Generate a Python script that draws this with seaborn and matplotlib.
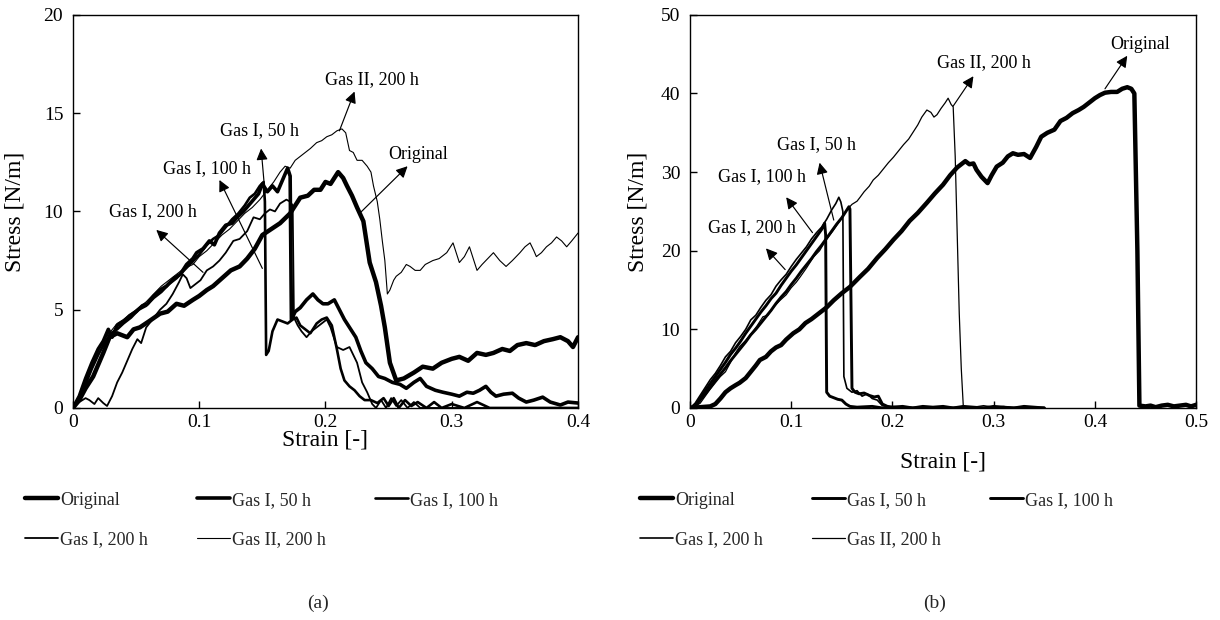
import matplotlib
matplotlib.use("Agg")
import matplotlib.pyplot as plt
from matplotlib.lines import Line2D
import seaborn as sns
import pandas as pd

# ---------------- data (strain, stress) ----------------
series_names = ["Original", "Gas I, 50 h", "Gas I, 100 h", "Gas I, 200 h", "Gas II, 200 h"]

a_original = [(0,0),(0.005,0.4),(0.01,1.0),(0.016,1.6),(0.02,2.2),(0.024,2.8),(0.029,3.6),(0.035,3.8),(0.043,3.6),
    (0.048,4.0),(0.053,4.1),(0.06,4.4),(0.069,4.8),(0.075,4.9),(0.082,5.3),(0.088,5.2),(0.095,5.5),(0.1,5.7),
    (0.106,6.0),(0.111,6.2),(0.118,6.6),(0.125,7.0),(0.132,7.2),(0.138,7.6),(0.144,8.1),(0.15,8.8),(0.157,9.1),
    (0.164,9.4),(0.172,9.9),(0.176,10.3),(0.18,10.7),(0.186,10.8),(0.191,11.1),(0.196,11.1),(0.2,11.5),(0.204,11.4),
    (0.21,12.0),(0.214,11.7),(0.217,11.3),(0.221,10.8),(0.225,10.2),(0.23,9.5),(0.235,7.4),(0.24,6.4),(0.244,5.2),
    (0.247,4.1),(0.251,2.3),(0.256,1.4),(0.262,1.5),(0.27,1.8),(0.277,2.1),(0.285,2.0),(0.292,2.3),(0.3,2.5),
    (0.306,2.6),(0.313,2.4),(0.32,2.8),(0.327,2.7),(0.333,2.8),(0.34,3.0),(0.346,2.9),(0.352,3.2),(0.359,3.3),
    (0.366,3.2),(0.373,3.4),(0.38,3.5),(0.386,3.6),(0.392,3.4),(0.396,3.1),(0.4,3.6)]

a_gas1_50 = [(0,0),(0.005,0.6),(0.01,1.5),(0.015,2.3),(0.02,3.0),(0.024,3.4),(0.028,4.0),(0.031,3.6),(0.035,4.2),
    (0.04,4.4),(0.045,4.7),(0.05,4.9),(0.055,5.2),(0.059,5.3),(0.064,5.7),(0.069,6.0),(0.074,6.2),(0.08,6.6),
    (0.085,6.8),(0.09,7.3),(0.095,7.6),(0.098,7.9),(0.103,8.1),(0.108,8.5),(0.112,8.3),(0.116,8.9),(0.121,9.3),
    (0.126,9.4),(0.13,9.7),(0.135,10.0),(0.139,10.3),(0.143,10.6),(0.147,10.9),(0.15,11.4),(0.154,11.0),
    (0.158,11.3),(0.162,11.0),(0.166,11.6),(0.17,12.2),(0.172,11.8),(0.173,4.5),(0.176,4.9),(0.18,5.1),(0.185,5.5),
    (0.19,5.8),(0.194,5.5),(0.198,5.3),(0.202,5.3),(0.207,5.5),(0.211,5.0),(0.215,4.5),(0.22,4.0),(0.224,3.6),
    (0.228,2.9),(0.232,2.3),(0.237,2.0),(0.242,1.6),(0.247,1.5),(0.253,1.3),(0.259,1.2),(0.264,1.0),(0.27,1.3),
    (0.275,1.5),(0.28,1.1),(0.287,0.9),(0.293,0.8),(0.3,0.7),(0.306,0.6),(0.312,0.8),(0.317,0.75),(0.322,0.9),
    (0.327,1.1),(0.331,0.8),(0.335,0.6),(0.341,0.7),(0.348,0.75),(0.353,0.5),(0.359,0.3),(0.365,0.4),(0.372,0.55),
    (0.378,0.3),(0.386,0.15),(0.392,0.3),(0.4,0.25)]

a_gas1_100 = [(0,0),(0.005,0.5),(0.01,1.2),(0.015,2.0),(0.02,2.7),(0.025,3.3),(0.03,3.8),(0.035,4.0),(0.04,4.3),
    (0.046,4.6),(0.052,5.0),(0.058,5.2),(0.064,5.6),(0.07,5.9),(0.076,6.3),(0.082,6.6),(0.088,7.0),(0.094,7.4),
    (0.1,7.8),(0.106,8.3),(0.111,8.6),(0.116,8.8),(0.121,9.2),(0.126,9.6),(0.131,9.9),(0.136,10.3),(0.14,10.7),
    (0.144,10.9),(0.148,11.3),(0.151,11.5),(0.152,10.5),(0.153,2.7),(0.155,2.9),(0.158,3.9),(0.162,4.5),(0.166,4.4),
    (0.17,4.3),(0.174,4.5),(0.177,4.6),(0.18,4.2),(0.184,4.0),(0.188,3.8),(0.193,4.3),(0.197,4.5),(0.201,4.6),
    (0.205,4.2),(0.209,3.0),(0.212,2.0),(0.215,1.4),(0.219,1.1),(0.223,0.9),(0.227,0.6),(0.231,0.4),(0.236,0.4),
    (0.241,0.25),(0.246,0.5),(0.25,0.1),(0.254,0.5),(0.258,0.0),(0.263,0.4),(0.268,0.1),(0.273,0.3),(0.28,0.0),
    (0.286,0.3),(0.292,0.0),(0.3,0.2),(0.31,0.0),(0.32,0.3),(0.33,0.0),(0.4,0.0)]

a_gas1_200 = [(0,0),(0.005,0.3),(0.01,0.5),(0.013,0.4),(0.017,0.2),(0.02,0.5),(0.024,0.25),(0.027,0.1),(0.031,0.6),
    (0.035,1.3),(0.039,1.8),(0.043,2.4),(0.047,3.0),(0.051,3.5),(0.054,3.3),(0.058,4.1),(0.063,4.5),(0.069,5.0),
    (0.074,5.3),(0.079,5.8),(0.084,6.4),(0.087,6.8),(0.09,6.6),(0.093,6.1),(0.097,6.3),(0.101,6.5),(0.106,7.0),
    (0.111,7.2),(0.116,7.5),(0.121,7.9),(0.127,8.5),(0.132,8.6),(0.138,9.0),(0.143,9.7),(0.148,9.6),(0.152,9.9),
    (0.156,10.1),(0.16,10.0),(0.164,10.4),(0.169,10.6),(0.172,10.5),(0.174,10.3),(0.175,4.6),(0.178,4.2),
    (0.181,3.9),(0.185,3.6),(0.189,3.9),(0.193,4.1),(0.197,4.3),(0.201,4.5),(0.204,4.1),(0.209,3.1),(0.214,2.95),
    (0.219,3.1),(0.222,2.7),(0.225,2.3),(0.229,1.3),(0.233,0.8),(0.237,0.2),(0.24,0.0),(0.244,0.4),(0.248,0.0),
    (0.252,0.5),(0.256,0.1),(0.26,0.4),(0.265,0.0),(0.27,0.3),(0.275,0.0),(0.4,0.0)]

a_gas2_200 = [(0,0),(0.005,0.5),(0.01,1.3),(0.015,2.2),(0.02,3.0),(0.025,3.5),(0.03,3.9),(0.035,4.3),(0.04,4.5),
    (0.046,4.8),(0.052,5.1),(0.058,5.4),(0.064,5.8),(0.07,6.2),(0.076,6.5),(0.082,6.8),(0.088,7.1),(0.095,7.3),
    (0.1,7.7),(0.106,8.0),(0.112,8.4),(0.118,8.8),(0.124,9.1),(0.13,9.5),(0.136,9.9),(0.142,10.2),(0.148,10.6),
    (0.154,11.1),(0.159,11.5),(0.164,12.0),(0.168,12.3),(0.172,12.2),(0.176,12.6),(0.18,12.8),(0.184,13.0),
    (0.188,13.2),(0.193,13.5),(0.197,13.6),(0.201,13.8),(0.205,13.9),(0.209,14.1),(0.213,14.2),(0.216,14.0),
    (0.219,13.1),(0.222,13.0),(0.225,12.6),(0.229,12.6),(0.233,12.3),(0.236,12.0),(0.238,11.3),(0.241,10.5),
    (0.243,9.6),(0.245,8.5),(0.247,7.5),(0.249,5.8),(0.251,6.0),(0.254,6.5),(0.256,6.7),(0.26,6.9),(0.264,7.3),
    (0.267,7.2),(0.271,7.0),(0.275,7.0),(0.279,7.3),(0.285,7.5),(0.29,7.6),(0.296,7.9),(0.299,8.2),(0.301,8.4),
    (0.303,8.0),(0.306,7.4),(0.31,7.7),(0.314,8.2),(0.317,7.6),(0.32,7.0),(0.324,7.3),(0.327,7.5),(0.333,7.9),
    (0.338,7.5),(0.343,7.2),(0.348,7.5),(0.354,7.9),(0.358,8.2),(0.362,8.4),(0.365,8.0),(0.367,7.7),(0.371,7.9),
    (0.375,8.2),(0.379,8.4),(0.383,8.7),(0.387,8.5),(0.391,8.2),(0.395,8.5),(0.4,8.9)]

b_original = [(0,0),(0.01,0.1),(0.02,0.2),(0.025,0.5),(0.03,1.2),(0.035,2.0),(0.04,2.5),(0.045,2.9),(0.049,3.2),
    (0.055,3.8),(0.06,4.6),(0.065,5.4),(0.069,6.1),(0.075,6.5),(0.08,7.2),(0.085,7.7),(0.09,8.0),(0.095,8.7),
    (0.102,9.5),(0.108,10.0),(0.114,10.8),(0.12,11.3),(0.127,12.0),(0.135,12.8),(0.142,13.7),(0.15,14.6),
    (0.158,15.4),(0.168,16.7),(0.176,17.7),(0.185,19.1),(0.193,20.2),(0.201,21.4),(0.209,22.5),(0.217,23.8),
    (0.225,24.8),(0.234,26.1),(0.242,27.3),(0.25,28.4),(0.257,29.6),(0.264,30.6),(0.268,31.0),(0.272,31.4),
    (0.276,31.0),(0.28,31.1),(0.283,30.3),(0.288,29.4),(0.294,28.6),(0.298,29.6),(0.303,30.7),(0.309,31.2),
    (0.314,32.0),(0.319,32.4),(0.324,32.2),(0.33,32.3),(0.336,31.8),(0.342,33.2),(0.347,34.5),(0.353,35.0),
    (0.36,35.4),(0.366,36.5),(0.372,36.9),(0.378,37.5),(0.384,37.9),(0.389,38.3),(0.395,38.9),(0.4,39.4),
    (0.405,39.8),(0.41,40.1),(0.416,40.2),(0.422,40.2),(0.427,40.6),(0.432,40.8),(0.436,40.6),(0.439,40.0),
    (0.442,20.0),(0.444,0.3),(0.45,0.2),(0.455,0.3),(0.46,0.1),(0.466,0.3),(0.472,0.4),(0.478,0.2),(0.484,0.3),
    (0.49,0.4),(0.495,0.2),(0.5,0.4)]

b_gas1_50 = [(0,0),(0.005,0.2),(0.01,1.0),(0.015,1.8),(0.02,2.6),(0.025,3.5),(0.03,4.3),(0.035,5.1),(0.04,6.0),
    (0.045,6.8),(0.05,7.6),(0.055,8.4),(0.06,9.3),(0.065,10.0),(0.07,10.8),(0.075,11.6),(0.08,12.4),(0.085,13.3),
    (0.09,14.1),(0.095,14.8),(0.1,15.7),(0.105,16.5),(0.11,17.4),(0.115,18.2),(0.12,19.0),(0.125,19.9),(0.13,20.7),
    (0.135,21.6),(0.14,22.5),(0.145,23.4),(0.15,24.2),(0.154,25.0),(0.157,25.6),(0.158,25.3),(0.16,2.5),(0.163,2.0),
    (0.167,1.8),(0.172,1.9),(0.177,1.6),(0.182,1.4),(0.186,1.5),(0.19,0.5),(0.195,0.2),(0.2,0.1),(0.21,0.2),
    (0.22,0.0),(0.23,0.2),(0.24,0.1),(0.25,0.2),(0.26,0.0),(0.27,0.2),(0.28,0.1),(0.29,0.0),(0.3,0.2),(0.31,0.1),
    (0.32,0.0),(0.33,0.2),(0.34,0.1),(0.35,0.0)]

b_gas1_100 = [(0,0),(0.005,0.3),(0.01,1.2),(0.015,2.2),(0.02,3.1),(0.025,4.0),(0.03,4.9),(0.035,5.8),(0.04,6.8),
    (0.045,7.6),(0.05,8.5),(0.055,9.5),(0.06,10.4),(0.065,11.3),(0.07,12.2),(0.075,13.0),(0.08,13.9),(0.085,14.6),
    (0.09,15.6),(0.095,16.5),(0.1,17.4),(0.105,18.2),(0.11,19.1),(0.115,20.0),(0.12,20.9),(0.125,21.8),(0.13,22.7),
    (0.133,23.5),(0.134,22.0),(0.135,2.0),(0.138,1.5),(0.142,1.3),(0.146,1.1),(0.15,1.0),(0.154,0.5),(0.158,0.2),
    (0.165,0.1),(0.18,0.2),(0.19,0.0),(0.2,0.1),(0.22,0.0),(0.35,0.0)]

b_gas1_200 = [(0,0),(0.005,0.6),(0.01,1.6),(0.015,2.6),(0.02,3.6),(0.025,4.4),(0.03,5.4),(0.035,6.5),(0.04,7.2),
    (0.045,8.3),(0.05,9.1),(0.055,10.0),(0.06,11.2),(0.065,11.8),(0.07,12.8),(0.075,13.7),(0.08,14.4),(0.085,15.5),
    (0.09,16.3),(0.095,17.0),(0.1,18.0),(0.105,18.9),(0.11,19.7),(0.115,20.5),(0.12,21.5),(0.125,22.3),(0.13,23.0),
    (0.135,24.0),(0.14,25.2),(0.144,26.0),(0.147,26.8),(0.149,26.2),(0.151,25.0),(0.152,4.0),(0.155,2.5),
    (0.16,2.0),(0.165,2.2),(0.17,1.5),(0.175,1.8),(0.18,1.2),(0.185,1.0),(0.19,0.3),(0.2,0.1),(0.21,0.0),(0.35,0.0)]

b_gas2_200 = [(0,0),(0.005,0.2),(0.01,0.6),(0.015,1.5),(0.02,2.4),(0.025,3.2),(0.03,4.0),(0.035,4.6),(0.04,5.8),
    (0.045,7.0),(0.049,7.8),(0.055,8.6),(0.06,9.4),(0.066,10.4),(0.072,11.6),(0.077,11.8),(0.083,12.9),(0.089,13.7),
    (0.095,14.4),(0.1,15.3),(0.105,16.0),(0.109,16.7),(0.115,17.8),(0.122,19.2),(0.128,20.0),(0.134,21.3),
    (0.141,22.5),(0.148,23.8),(0.155,25.2),(0.16,25.9),(0.165,26.3),(0.168,26.8),(0.172,27.5),(0.177,28.2),
    (0.181,29.0),(0.186,29.6),(0.191,30.4),(0.196,31.2),(0.201,31.9),(0.206,32.7),(0.211,33.5),(0.216,34.2),
    (0.22,35.0),(0.225,36.0),(0.229,37.0),(0.234,37.9),(0.238,37.6),(0.241,37.0),(0.244,37.3),(0.248,38.1),
    (0.252,38.8),(0.255,39.4),(0.258,38.6),(0.26,38.3),(0.262,32.0),(0.264,22.0),(0.266,12.0),(0.268,5.0),
    (0.27,0.2),(0.28,0.1),(0.29,0.3),(0.3,0.1),(0.31,0.2),(0.32,0.0),(0.33,0.2),(0.34,0.1),(0.35,0.0)]

# annotations: label, text position, arrow head, arrow tail (strain, stress)
a_notes = [("Gas II, 200 h", (0.237, 16.7), (0.223, 16.1), (0.211, 14.1)),
           ("Original", (0.273, 12.9), (0.265, 12.3), (0.227, 9.9)),
           ("Gas I, 50 h", (0.148, 14.1), (0.149, 13.2), (0.152, 11.0)),
           ("Gas I, 100 h", (0.106, 12.2), (0.116, 11.6), (0.150, 7.1)),
           ("Gas I, 200 h", (0.063, 10.0), (0.066, 9.06), (0.103, 6.9))]
b_notes = [("Gas I, 50 h", (0.1245, 33.5), (0.128, 31.2), (0.142, 23.9)),
           ("Gas I, 100 h", (0.071, 29.4), (0.095, 26.8), (0.121, 22.3)),
           ("Gas I, 200 h", (0.061, 23.0), (0.075, 20.3), (0.094, 17.6)),
           ("Gas II, 200 h", (0.290, 43.9), (0.280, 42.2), (0.260, 38.4)),
           ("Original", (0.445, 46.2), (0.432, 44.8), (0.410, 40.6))]

# ---------------- styling ----------------
sns.set_theme(style="white")
plt.rcParams["font.family"] = ["Liberation Serif", "DejaVu Serif"]

a_widths = [3.2, 2.6, 1.9, 1.3, 0.8]
b_widths = [3.2, 2.1, 2.1, 1.2, 0.9]


def to_frame(series_list):
    rows = []
    for name, pts in zip(series_names, series_list):
        for i, (x, y) in enumerate(pts):
            rows.append({"series": name, "order": i, "strain": x, "stress": y})
    return pd.DataFrame(rows)


def draw_panel(ax, df, widths, xmax, ymax, ystep, notes):
    for name, lw in zip(series_names, widths):
        sub = df[df["series"] == name]
        sns.lineplot(data=sub, x="strain", y="stress", ax=ax, color="black",
                     linewidth=lw, sort=False, estimator=None, legend=False)
    ax.set_xlim(0, xmax)
    ax.set_ylim(0, ymax)
    xt = [i / 10 for i in range(int(round(xmax * 10)) + 1)]
    ax.set_xticks(xt)
    ax.set_xticklabels(["0"] + [f"{v:g}" for v in xt[1:]])
    ax.set_yticks(list(range(0, ymax + 1, ystep)))
    ax.tick_params(direction="in", length=5, width=1, colors="black",
                   labelsize=14, pad=4, bottom=True, left=True, top=False, right=False)
    ax.tick_params(axis="y", pad=7)
    for sp in ax.spines.values():
        sp.set_color("black")
        sp.set_linewidth(1.0)
    ax.set_xlabel("Strain [-]", fontsize=17, color="black")
    ax.set_ylabel("Stress [N/m]", fontsize=17, color="black")
    for label, tpos, head, tail in notes:
        ax.annotate("", xy=head, xytext=tail,
                    arrowprops=dict(arrowstyle="-|>", color="black", lw=0.85,
                                    mutation_scale=17, shrinkA=0, shrinkB=0))
        ax.text(tpos[0], tpos[1], label, fontsize=13, ha="center", va="center", color="black")


fig = plt.figure(figsize=(12.2, 6.2), dpi=100)
ax1 = fig.add_axes([0.0598, 0.342, 0.414, 0.634])
ax2 = fig.add_axes([0.5656, 0.342, 0.4148, 0.634])

df_a = to_frame([a_original, a_gas1_50, a_gas1_100, a_gas1_200, a_gas2_200])
df_b = to_frame([b_original, b_gas1_50, b_gas1_100, b_gas1_200, b_gas2_200])

draw_panel(ax1, df_a, a_widths, 0.4, 20, 5, a_notes)
draw_panel(ax2, df_b, b_widths, 0.5, 50, 10, b_notes)

for ax, ylx, xly in [(ax1, -0.115, -0.081), (ax2, -0.103, -0.137)]:
    ax.yaxis.label.set_va("center")
    ax.yaxis.set_label_coords(ylx, 0.5)
    ax.xaxis.label.set_va("center")
    ax.xaxis.set_label_coords(0.5, xly)

# legends (row-major order emulated for column-major fill)
order = [0, 3, 1, 4, 2]
for widths, x0 in [(a_widths, 0.0205), (b_widths, 0.5246)]:
    handles = [Line2D([0], [0], color="black", lw=widths[i]) for i in order]
    labels = [series_names[i] for i in order]
    fig.legend(handles, labels, loc="upper left", bbox_to_anchor=(x0, 0.207), ncol=3,
               frameon=False, fontsize=13, handlelength=1.85, handletextpad=0.1,
               columnspacing=2.7, labelspacing=1.24, borderpad=0, borderaxespad=0)

fig.text(0.261, 0.027, "(a)", fontsize=14, ha="center", va="center")
fig.text(0.766, 0.027, "(b)", fontsize=14, ha="center", va="center")

fig.savefig("out.png", dpi=100)
